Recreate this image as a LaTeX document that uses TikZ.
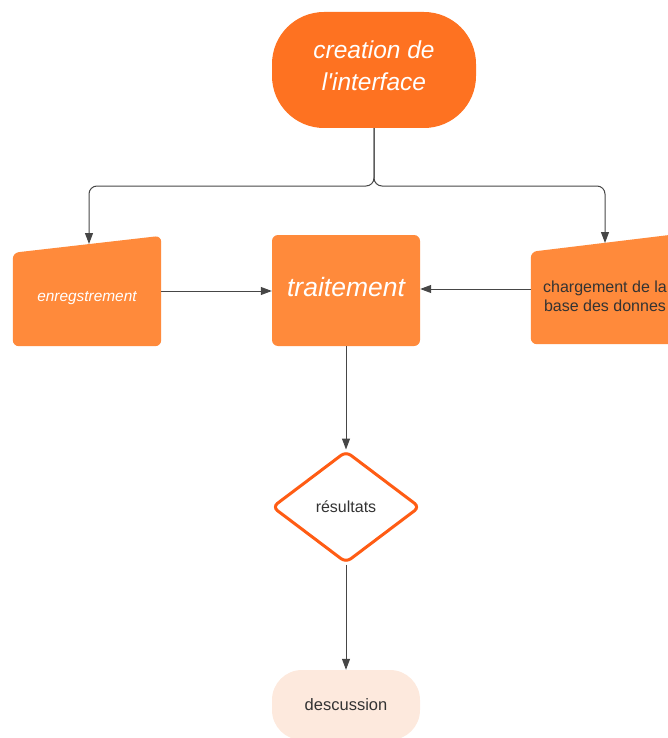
\documentclass[tikz,border=0pt]{standalone}
\usepackage{fontspec}
\setmainfont{Liberation Sans}
\usetikzlibrary{arrows.meta,shapes.geometric,calc,backgrounds}
\definecolor{termorange}{RGB}{254,114,33}
\definecolor{boxorange}{RGB}{255,138,59}
\definecolor{diaorange}{RGB}{255,92,20}
\definecolor{peach}{RGB}{253,233,221}
\definecolor{linegray}{RGB}{70,70,70}
\definecolor{textgray}{RGB}{51,51,51}
\tikzset{
  conn/.style={draw=linegray, line width=1pt, -{Triangle[length=11pt,width=8pt]}},
  whitetext/.style={text=white, font=\itshape},
  darktext/.style={text=textgray},
  boxfill/.style={fill=boxorange, rounded corners=6pt},
}
\begin{document}
\begin{tikzpicture}[x=1pt,y=-1pt]
\useasboundingbox (0,0) rectangle (668,738);
\clip (0,0) rectangle (668,738);

% top terminal
\node[fill=termorange, rounded corners=52pt, minimum width=204pt, minimum height=116pt] (top) at (374,70) {};
\node[whitetext, align=center, font=\itshape\fontsize{24.5}{32}\selectfont] (toptxt) at (374,66) {creation de\\l\textquotesingle interface};

% traitement
\node[fill=boxorange, rounded corners=6pt, minimum width=148pt, minimum height=111pt] (trt) at (346,290.5) {};
\node[whitetext, font=\itshape\fontsize{26.5}{30}\selectfont] (trttxt) at (346,287.5) {traitement};

% enregstrement (manual input)
\node[minimum width=148pt, minimum height=110pt, inner sep=0pt] (enr) at (87,291) {};
\node[whitetext, font=\itshape\fontsize{15.4}{18}\selectfont] (enrtxt) at (87,298) {enregstrement};
% chargement (manual input)
\node[minimum width=148pt, minimum height=110pt, inner sep=0pt] (chg) at (605,289) {};
\node[darktext, align=center, font=\fontsize{16}{19}\selectfont] (chgtxt) at (605,296) {chargement de la\\base des donnes};

\begin{scope}[on background layer]
  \path[boxfill] (enr.south west) -- ($(enr.north west)+(0,17)$) -- (enr.north east) -- (enr.south east) -- cycle;
  \path[boxfill] (chg.south west) -- ($(chg.north west)+(0,18)$) -- (chg.north east) -- (chg.south east) -- cycle;
\end{scope}

\coordinate (enrin) at (89,244);
\coordinate (chgin) at (605,243);

% diamond
\node[diamond, draw=diaorange, line width=3pt, fill=white, rounded corners=6pt,
      minimum width=148pt, minimum height=112pt, inner sep=0pt, darktext,
      font=\fontsize{16}{19}\selectfont] (res) at (346,507) {résultats};

% descussion
\node[darktext, fill=peach, rounded corners=30pt, minimum width=148pt, minimum height=70pt,
      font=\fontsize{16.5}{19}\selectfont] (dis) at (346,705) {descussion};

% connectors
\draw[conn, rounded corners=8pt] (top.south) -- (374,186) -| (enrin);
\draw[conn, rounded corners=8pt] (top.south) -- (374,186) -| (chgin);
\draw[conn] (enr.east) -- (enr.east -| trt.west);
\draw[conn] (chg.west) -- (chg.west -| trt.east);
\draw[conn] (trt.south) -- (res.north);
\draw[conn] (res.south) -- (dis.north);
\end{tikzpicture}
\end{document}
